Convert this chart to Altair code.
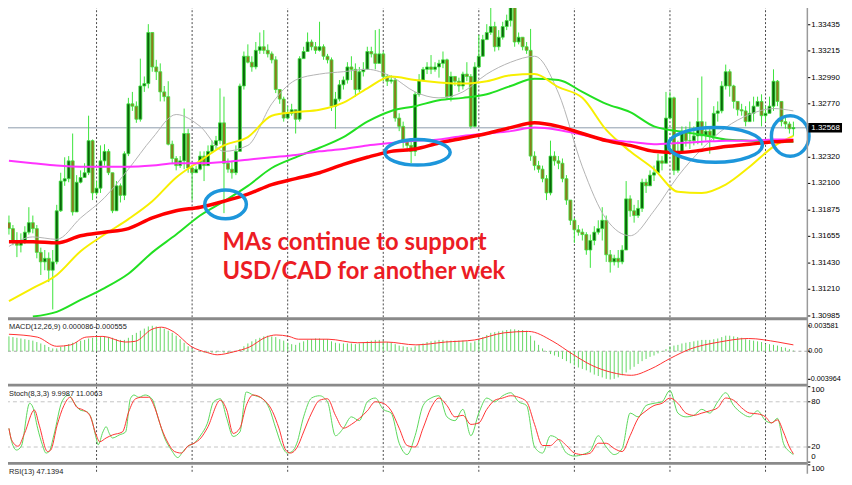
import altair as alt
import pandas as pd
import numpy as np

# ---------------- data ----------------
first_open = 1.3177
close = [
    1.3172, 1.3162, 1.3158, 1.3162, 1.3169, 1.3177, 1.3172, 1.3152, 1.3144, 1.3147,
    1.3137, 1.3144, 1.3187, 1.3212, 1.3214, 1.3229, 1.3186, 1.3211, 1.3215, 1.3219,
    1.3246, 1.3202, 1.3206, 1.3229, 1.3237, 1.3219, 1.3187, 1.3208, 1.3200, 1.3235,
    1.3277, 1.3275, 1.3264, 1.3292, 1.3294, 1.3337, 1.3308, 1.3304, 1.3287, 1.3283,
    1.3243, 1.3231, 1.3225, 1.3229, 1.3252, 1.3223, 1.3219, 1.3222, 1.3233, 1.3225,
    1.3237, 1.3242, 1.3246, 1.3261, 1.3227, 1.3222, 1.3219, 1.3237, 1.3292, 1.3317,
    1.3312, 1.3308, 1.3322, 1.3325, 1.3322, 1.3319, 1.3314, 1.3289, 1.3281, 1.3265,
    1.3269, 1.3272, 1.3264, 1.3315, 1.3321, 1.3329, 1.3325, 1.3322, 1.3325, 1.3317,
    1.3314, 1.3275, 1.3281, 1.3293, 1.3297, 1.3308, 1.3306, 1.3289, 1.3304, 1.3306,
    1.3321, 1.3319, 1.3311, 1.3319, 1.3300, 1.3296, 1.3297, 1.3265, 1.3258, 1.3246,
    1.3242, 1.3237, 1.3285, 1.3297, 1.3306, 1.3308, 1.3306, 1.3308, 1.3311, 1.3314,
    1.3283, 1.3300, 1.3296, 1.3292, 1.3302, 1.3300, 1.3258, 1.3308, 1.3317, 1.3331,
    1.3337, 1.3342, 1.3325, 1.3333, 1.3342, 1.3347, 1.3358, 1.3329, 1.3333, 1.3325,
    1.3322, 1.3233, 1.3225, 1.3222, 1.3214, 1.3202, 1.3233, 1.3229, 1.3227, 1.3214,
    1.3196, 1.3179, 1.3171, 1.3169, 1.3167, 1.3154, 1.3162, 1.3169, 1.3172, 1.3179,
    1.3150, 1.3144, 1.3147, 1.3144, 1.3154, 1.3197, 1.3187, 1.3183, 1.3189, 1.3211,
    1.3208, 1.3217, 1.3219, 1.3229, 1.3227, 1.3265, 1.3282, 1.3221, 1.3237, 1.3254,
    1.3246, 1.3246, 1.3250, 1.3262, 1.3250, 1.3254, 1.3250, 1.3269, 1.3271, 1.3292,
    1.3304, 1.3292, 1.3279, 1.3272, 1.3271, 1.3262, 1.3269, 1.3275, 1.3279, 1.3267,
    1.3269, 1.3275, 1.3296, 1.3279, 1.3262, 1.3260, 1.3256, 1.3257,
]
high = [
    1.3183, 1.3175, 1.3169, 1.3168, 1.3174, 1.3190, 1.3183, 1.3175, 1.3156, 1.3154,
    1.3152, 1.3154, 1.3192, 1.3219, 1.3232, 1.3233, 1.3252, 1.3217, 1.3221, 1.3227,
    1.3267, 1.3247, 1.3212, 1.3242, 1.3243, 1.3239, 1.3214, 1.3212, 1.3210, 1.3237,
    1.3282, 1.3287, 1.3279, 1.3315, 1.3300, 1.3344, 1.3337, 1.3314, 1.3311, 1.3292,
    1.3296, 1.3246, 1.3233, 1.3233, 1.3273, 1.3256, 1.3225, 1.3225, 1.3237, 1.3237,
    1.3242, 1.3246, 1.3250, 1.3290, 1.3283, 1.3231, 1.3229, 1.3242, 1.3294, 1.3321,
    1.3327, 1.3317, 1.3329, 1.3337, 1.3339, 1.3327, 1.3321, 1.3317, 1.3289, 1.3283,
    1.3275, 1.3277, 1.3272, 1.3317, 1.3325, 1.3337, 1.3331, 1.3329, 1.3346, 1.3327,
    1.3319, 1.3316, 1.3287, 1.3297, 1.3300, 1.3312, 1.3317, 1.3311, 1.3308, 1.3312,
    1.3325, 1.3325, 1.3339, 1.3340, 1.3321, 1.3302, 1.3301, 1.3299, 1.3269, 1.3262,
    1.3247, 1.3246, 1.3287, 1.3302, 1.3308, 1.3312, 1.3318, 1.3312, 1.3314, 1.3321,
    1.3315, 1.3304, 1.3300, 1.3299, 1.3304, 1.3312, 1.3302, 1.3312, 1.3335, 1.3335,
    1.3344, 1.3358, 1.3346, 1.3339, 1.3346, 1.3352, 1.3362, 1.3346, 1.3337, 1.3333,
    1.3329, 1.3340, 1.3237, 1.3229, 1.3225, 1.3217, 1.3246, 1.3237, 1.3233, 1.3231,
    1.3217, 1.3196, 1.3181, 1.3175, 1.3172, 1.3169, 1.3167, 1.3174, 1.3179, 1.3190,
    1.3183, 1.3154, 1.3150, 1.3154, 1.3158, 1.3212, 1.3200, 1.3192, 1.3196, 1.3214,
    1.3214, 1.3221, 1.3225, 1.3235, 1.3233, 1.3287, 1.3287, 1.3283, 1.3246, 1.3258,
    1.3258, 1.3262, 1.3258, 1.3282, 1.3300, 1.3262, 1.3258, 1.3275, 1.3279, 1.3296,
    1.3310, 1.3306, 1.3293, 1.3279, 1.3277, 1.3275, 1.3279, 1.3283, 1.3283, 1.3285,
    1.3275, 1.3283, 1.3306, 1.3297, 1.3279, 1.3267, 1.3262, 1.3262,
]
low = [
    1.3167, 1.3158, 1.3148, 1.3152, 1.3159, 1.3167, 1.3168, 1.3147, 1.3133, 1.3137,
    1.3127, 1.3104, 1.3142, 1.3186, 1.3208, 1.3211, 1.3183, 1.3204, 1.3210, 1.3215,
    1.3217, 1.3196, 1.3200, 1.3202, 1.3225, 1.3217, 1.3185, 1.3196, 1.3194, 1.3196,
    1.3233, 1.3271, 1.3261, 1.3262, 1.3287, 1.3290, 1.3304, 1.3297, 1.3279, 1.3279,
    1.3242, 1.3227, 1.3221, 1.3223, 1.3222, 1.3219, 1.3196, 1.3219, 1.3221, 1.3212,
    1.3231, 1.3236, 1.3239, 1.3243, 1.3185, 1.3219, 1.3214, 1.3217, 1.3237, 1.3289,
    1.3311, 1.3304, 1.3306, 1.3319, 1.3319, 1.3316, 1.3311, 1.3286, 1.3277, 1.3262,
    1.3264, 1.3267, 1.3252, 1.3262, 1.3315, 1.3321, 1.3322, 1.3319, 1.3321, 1.3314,
    1.3311, 1.3271, 1.3256, 1.3279, 1.3289, 1.3294, 1.3297, 1.3283, 1.3287, 1.3300,
    1.3306, 1.3316, 1.3306, 1.3317, 1.3296, 1.3292, 1.3294, 1.3262, 1.3254, 1.3240,
    1.3237, 1.3227, 1.3233, 1.3283, 1.3296, 1.3302, 1.3302, 1.3304, 1.3299, 1.3307,
    1.3281, 1.3279, 1.3292, 1.3287, 1.3289, 1.3296, 1.3256, 1.3257, 1.3307, 1.3317,
    1.3331, 1.3335, 1.3321, 1.3322, 1.3331, 1.3339, 1.3342, 1.3325, 1.3327, 1.3322,
    1.3319, 1.3229, 1.3221, 1.3219, 1.3211, 1.3196, 1.3200, 1.3225, 1.3222, 1.3211,
    1.3192, 1.3175, 1.3160, 1.3166, 1.3162, 1.3150, 1.3139, 1.3158, 1.3167, 1.3162,
    1.3144, 1.3135, 1.3141, 1.3139, 1.3142, 1.3154, 1.3182, 1.3177, 1.3181, 1.3186,
    1.3202, 1.3208, 1.3212, 1.3219, 1.3221, 1.3229, 1.3264, 1.3217, 1.3219, 1.3236,
    1.3241, 1.3239, 1.3242, 1.3243, 1.3242, 1.3246, 1.3235, 1.3246, 1.3262, 1.3269,
    1.3289, 1.3283, 1.3273, 1.3267, 1.3267, 1.3258, 1.3262, 1.3262, 1.3275, 1.3258,
    1.3262, 1.3271, 1.3271, 1.3275, 1.3258, 1.3256, 1.3252, 1.3250,
]

# moving averages sampled at these bar indices
ma_idx = [0, 6, 12, 18, 24, 30, 36, 42, 48, 54, 60, 66, 72, 78, 84, 90, 96, 102,
          108, 114, 120, 126, 132, 138, 144, 150, 156, 162, 168, 174, 180, 186, 192, 197]
ma_gray = [1.3157, 1.3165, 1.3163, 1.3181, 1.3198, 1.3222, 1.3248, 1.3268, 1.3258, 1.3237,
           1.3242, 1.3277, 1.3297, 1.3302, 1.3304, 1.3306, 1.3300, 1.3287, 1.3282, 1.3287,
           1.3302, 1.3312, 1.3317, 1.3286, 1.3224, 1.3180, 1.3166, 1.3187, 1.3216, 1.3239,
           1.3257, 1.3268, 1.3273, 1.3271]
ma_yellow = [1.3111, 1.3122, 1.3133, 1.3153, 1.3167, 1.3180, 1.3195, 1.3215, 1.3229, 1.3242,
             1.3249, 1.3267, 1.3270, 1.3272, 1.3278, 1.3290, 1.3300, 1.3297, 1.3295, 1.3294,
             1.3296, 1.3301, 1.3302, 1.3291, 1.3282, 1.3255, 1.3237, 1.3222, 1.3203, 1.3202,
             1.3209, 1.3224, 1.3241, 1.3250]
ma_green = [None, 1.3098, 1.3102, 1.3112, 1.3122, 1.3134, 1.3152, 1.3167, 1.3183, 1.3195,
            1.3208, 1.3223, 1.3232, 1.3240, 1.3249, 1.3262, 1.3271, 1.3275, 1.3280, 1.3282,
            1.3285, 1.3292, 1.3298, 1.3297, 1.3287, 1.3277, 1.3270, 1.3258, 1.3254, 1.3251,
            1.3247, 1.3246, 1.3245, 1.3245]
ma_red = [1.3161, 1.3161, 1.3160, 1.3166, 1.3169, 1.3172, 1.3181, 1.3187, 1.3190, 1.3195,
          1.3201, 1.3209, 1.3214, 1.3219, 1.3226, 1.3232, 1.3237, 1.3239, 1.3244, 1.3248,
          1.3252, 1.3257, 1.3261, 1.3258, 1.3252, 1.3246, 1.3242, 1.3237, 1.3236, 1.3238,
          1.3241, 1.3243, 1.3245, 1.3246]
ma_magenta = [1.3229, 1.3227, 1.3225, 1.3224, 1.3224, 1.3224, 1.3225, 1.3227, 1.3227, 1.3228,
              1.3230, 1.3232, 1.3234, 1.3237, 1.3239, 1.3242, 1.3244, 1.3246, 1.3247, 1.3250,
              1.3252, 1.3254, 1.3257, 1.3255, 1.3251, 1.3247, 1.3245, 1.3243, 1.3244, 1.3245,
              1.3246, 1.3246, 1.3247, 1.3247]

macd_main = [
    0.0021, 0.0020, 0.0019, 0.0018, 0.0017, 0.0016, 0.0015, 0.0013, 0.0011, 0.0009,
    0.0006, 0.0004, 0.0004, 0.0006, 0.0008, 0.0010, 0.0012, 0.0013, 0.0015, 0.0016,
    0.0018, 0.0019, 0.0020, 0.0020, 0.0021, 0.0020, 0.0019, 0.0017, 0.0016, 0.0016,
    0.0019, 0.0023, 0.0026, 0.0029, 0.0032, 0.0035, 0.0036, 0.0035, 0.0034, 0.0032,
    0.0029, 0.0026, 0.0022, 0.0017, 0.0012, 0.0007, 0.0003, 0.0000, -0.0001, -0.0002,
    -0.0002, -0.0002, -0.0002, -0.0001, -0.0002, -0.0003, -0.0002, 0.0000, 0.0003, 0.0007,
    0.0011, 0.0014, 0.0017, 0.0019, 0.0021, 0.0022, 0.0021, 0.0020, 0.0017, 0.0015,
    0.0012, 0.0010, 0.0009, 0.0012, 0.0014, 0.0016, 0.0017, 0.0018, 0.0018, 0.0017,
    0.0017, 0.0014, 0.0012, 0.0011, 0.0011, 0.0011, 0.0011, 0.0010, 0.0011, 0.0012,
    0.0014, 0.0015, 0.0016, 0.0016, 0.0015, 0.0013, 0.0012, 0.0010, 0.0008, 0.0007,
    0.0006, 0.0005, 0.0007, 0.0009, 0.0011, 0.0013, 0.0014, 0.0015, 0.0016, 0.0016,
    0.0015, 0.0015, 0.0015, 0.0015, 0.0015, 0.0014, 0.0012, 0.0014, 0.0017, 0.0020,
    0.0023, 0.0026, 0.0027, 0.0028, 0.0029, 0.0030, 0.0031, 0.0031, 0.0030, 0.0030,
    0.0029, 0.0022, 0.0015, 0.0009, 0.0004, -0.0001, -0.0004, -0.0006, -0.0008, -0.0011,
    -0.0014, -0.0017, -0.0020, -0.0023, -0.0025, -0.0027, -0.0030, -0.0033, -0.0035, -0.0037,
    -0.0039, -0.0040, -0.0039, -0.0037, -0.0034, -0.0030, -0.0026, -0.0022, -0.0018, -0.0014,
    -0.0011, -0.0008, -0.0006, -0.0003, -0.0001, 0.0003, 0.0007, 0.0008, 0.0009, 0.0011,
    0.0012, 0.0013, 0.0014, 0.0015, 0.0016, 0.0016, 0.0016, 0.0017, 0.0018, 0.0020,
    0.0022, 0.0022, 0.0021, 0.0020, 0.0019, 0.0017, 0.0016, 0.0015, 0.0014, 0.0013,
    0.0010, 0.0010, 0.0009, 0.0008, 0.0006, 0.0005, 0.0003, 0.0001,
]
macd_signal = [(0, 0.0024), (7.1, 0.0020), (12, 0.0007), (15.5, 0.0009), (19.4, 0.0020),
               (23.6, 0.0021), (29.2, 0.0013), (31.7, 0.0014), (35.9, 0.0031), (38.3, 0.0034),
               (41.5, 0.0027), (45.7, 0.0007), (49.9, -0.0002), (52.3, -0.0005), (56.3, -0.0001),
               (60.4, 0.0006), (64.6, 0.0020), (67.1, 0.0023), (70.3, 0.0021), (72.7, 0.0017),
               (80.1, 0.0017), (87.5, 0.0012), (94.8, 0.0013), (102.2, 0.0009), (109.6, 0.0013),
               (117, 0.0016), (124.3, 0.0026), (130.5, 0.0028), (136.6, 0.0014), (141.5, -0.0004),
               (146.4, -0.0020), (151.4, -0.0030), (156.3, -0.0034), (161.2, -0.0025),
               (166.1, -0.0010), (171, 0.0003), (178.4, 0.0013), (185.7, 0.0018),
               (193.1, 0.0013), (197, 0.0009)]

stoch_k = [(0, 44.7), (0.7, 27), (1.9, 16), (3.1, 21), (5.2, 78), (6.0, 73), (7.2, 45), (8.4, 23),
           (9.3, 12), (10.1, 14), (11.3, 36), (13.3, 80), (15, 89), (16.2, 80), (17.9, 69),
           (19.5, 67), (20.7, 58), (21.9, 32), (22.4, 23), (23.6, 40), (24.4, 47), (25.2, 38),
           (26, 32), (27.7, 36), (29.3, 40), (30.5, 84), (31.4, 89), (32.6, 86), (34.2, 89),
           (35.9, 84), (37.5, 58), (39.1, 32), (40.8, 16), (42.4, 6), (43.7, 14), (44.9, 21),
           (46.5, 25), (48.2, 36), (49.8, 51), (51.4, 80), (53.1, 84), (54.7, 58), (56.3, 34),
           (58, 40), (59.6, 93), (61.3, 89), (63.7, 84), (65.4, 71), (67, 45), (68.6, 21),
           (69.9, 12), (71.1, 14), (72.3, 25), (74, 60), (76, 85), (78, 88), (80, 80), (82, 35),
           (84, 45), (86, 60), (88, 55), (90, 80), (92, 85), (94, 70), (96, 65), (98, 25),
           (100, 10), (102, 35), (104, 75), (106, 85), (108, 88), (110, 60), (112, 55),
           (114, 70), (116, 35), (118, 65), (120, 85), (122, 80), (124, 88), (126, 92),
           (128, 80), (130, 75), (132, 20), (134, 12), (136, 35), (138, 30), (140, 12),
           (142, 8), (144, 10), (146, 15), (148, 35), (150, 20), (152, 10), (154, 18),
           (156, 65), (158, 60), (160, 75), (162, 78), (164, 80), (166, 95), (168, 65),
           (170, 60), (172, 62), (174, 70), (176, 65), (178, 80), (180, 92), (182, 75),
           (184, 65), (186, 60), (188, 68), (190, 55), (191.5, 52), (193, 58), (194.5, 25),
           (196, 14), (197, 10)]
stoch_d = [(0, 44.7), (0.7, 29), (2.3, 21), (3.9, 38), (6.4, 69), (7.6, 49), (9.7, 14), (10.5, 16),
           (12.1, 49), (13.8, 75), (15.4, 86), (17, 73), (18.7, 69), (20.3, 62), (21.9, 36),
           (22.8, 27), (24.4, 32), (26, 36), (28.5, 40), (30.1, 67), (31.8, 84), (33.4, 86),
           (35.1, 86), (36.7, 71), (38.3, 45), (40, 25), (41.6, 14), (43.3, 12), (44.9, 21),
           (46.5, 25), (48.2, 32), (49.8, 45), (53.1, 82), (54.7, 69), (56.3, 38), (58, 45),
           (59.6, 75), (61.3, 89), (63.7, 84), (66.2, 67), (67.8, 45), (69.5, 16), (70.7, 12),
           (71.9, 16), (72.7, 23), (74, 40), (76, 65), (78, 82), (80, 84), (82, 62), (84, 45),
           (86, 50), (88, 58), (90, 68), (92, 80), (94, 78), (96, 68), (98, 45), (100, 22),
           (102, 20), (104, 45), (106, 72), (108, 85), (110, 75), (112, 60), (114, 62),
           (116, 50), (118, 52), (120, 70), (122, 82), (124, 85), (126, 88), (128, 86),
           (130, 80), (132, 50), (134, 22), (136, 22), (138, 30), (140, 22), (142, 12),
           (144, 10), (146, 12), (148, 25), (150, 25), (152, 18), (154, 14), (156, 35),
           (158, 58), (160, 68), (162, 75), (164, 78), (166, 85), (168, 78), (170, 65),
           (172, 62), (174, 65), (176, 68), (178, 72), (180, 85), (182, 82), (184, 72),
           (186, 65), (188, 64), (190, 60), (191.5, 52), (193, 56), (194.5, 40), (196, 20),
           (197, 11)]

day_breaks = [22, 46, 70, 94, 118, 142, 166, 190]
price_ticks = [1.33435, 1.33215, 1.32990, 1.32770, 1.32320, 1.32100, 1.31875,
               1.31655, 1.31430, 1.31210, 1.30985]
last_price = 1.32568
macd_ticks = [0.003581, 0.0, -0.003964]
macd_tick_labels = ["0.003581", "0.00", "-0.003964"]
stoch_mid_ticks = [80, 20]
stoch_top_tick = 100
stoch_bottom_tick = 0
stoch_levels = [80, 20]
rsi_top_tick = 100
rsi_levels = [70]

ellipse_i = [54.4, 102.6, 177.4, 196.2]
ellipse_p = [1.31924, 1.32362, 1.32424, 1.32499]
ellipse_w = [42, 66, 95, 38]
ellipse_ratio = [0.69, 0.39, 0.37, 1.08]

note_lines = ["MAs continue to support", "USD/CAD for another wek"]
note_i = [53.6, 53.6]
note_p = [1.31541, 1.31299]

title_macd = "MACD(12,26,9) 0.000086-0.000555"
title_stoch = "Stoch(8,3,3) 9.9987 11.0063"
title_rsi = "RSI(13) 47.1394"

# ---------------- chart ----------------
FONT = "Liberation Sans, Arial, sans-serif"
FS = 8
W, H = 815, 476
LABEL_X = 819
xs = alt.Scale(domain=[-0.983, 199.26], nice=False, zero=False)
X = alt.X("i:Q", scale=xs, axis=None)

y_main = alt.Scale(domain=[1.30974, 1.33624], range=[318, 0], nice=False, zero=False)
y_macd = alt.Scale(domain=[-0.00458, 0.00424], range=[385, 322], nice=False, zero=False)
y_stoch = alt.Scale(domain=[0, 100], range=[464.2, 388.1], nice=False, zero=False)
y_rsi = alt.Scale(domain=[0, 100], range=[517, 467], nice=False, zero=False)


def Y(field, scale):
    return alt.Y(f"{field}:Q", scale=scale, axis=None)


def tick_marks(values, scale):
    return alt.Chart(pd.DataFrame({"v": values})).mark_rule(color="#000000", strokeWidth=1).encode(
        x=alt.value(W), x2=alt.value(W + 3), y=Y("v", scale))


def tick_labels(values, labels, scale, baseline="middle", dy=0, x=LABEL_X, size=FS):
    return alt.Chart(pd.DataFrame({"v": values, "t": labels})).mark_text(
        align="left", baseline=baseline, dy=dy, font=FONT, fontSize=size, color="#000000").encode(
        x=alt.value(x), y=Y("v", scale), text="t:N")


opens = [first_open] + close[:-1]
bars = pd.DataFrame({"i": np.arange(len(close)), "open": opens, "close": close,
                     "high": high, "low": low})
bars["high"] = bars[["high", "open", "close"]].max(axis=1)
bars["low"] = bars[["low", "open", "close"]].min(axis=1)
bars["dir"] = np.where(bars["close"] >= bars["open"], "up", "down")

WICK = "#3be43b"

price_line = alt.Chart(pd.DataFrame({"p": [last_price]})).mark_rule(
    color="#8d9cab", strokeWidth=1).encode(y=Y("p", y_main))

wicks = alt.Chart(bars).mark_rule(color=WICK, strokeWidth=1).encode(
    x=X, y=Y("low", y_main), y2="high:Q")

bodies = alt.Chart(bars).mark_bar(size=3, stroke=WICK, strokeWidth=0.8, orient="vertical").encode(
    x=X, y=Y("open", y_main), y2="close:Q",
    fill=alt.Fill("dir:N", scale=alt.Scale(domain=["up", "down"], range=["#0b650b", "#8c7a1e"]),
                  legend=None))


def ma_layer(vals, color, width):
    df = pd.DataFrame({"i": ma_idx, "p": vals}).dropna()
    return alt.Chart(df).mark_line(color=color, strokeWidth=width, interpolate="monotone").encode(
        x=X, y=Y("p", y_main))


ma_layers = [
    ma_layer(ma_gray, "#b3b3b3", 1),
    ma_layer(ma_green, "#22e022", 2),
    ma_layer(ma_yellow, "#f7ef00", 2),
    ma_layer(ma_magenta, "#ff33ff", 2),
    ma_layer(ma_red, "#ff0000", 3.5),
]

ell = pd.DataFrame({"i": ellipse_i, "p": ellipse_p})
ell["size"] = [w * w for w in ellipse_w]
ell["path"] = ["M-1,0A1,{r},0,1,1,1,0A1,{r},0,1,1,-1,0Z".format(r=r) for r in ellipse_ratio]
ellipses = alt.Chart(ell).mark_point(filled=False, strokeWidth=3.5, color="#1d96db", opacity=1).encode(
    x=X, y=Y("p", y_main),
    shape=alt.Shape("path:N", scale=None), size=alt.Size("size:Q", scale=None))

notes = alt.Chart(pd.DataFrame({"i": note_i, "p": note_p, "t": note_lines})).mark_text(
    align="left", baseline="alphabetic", font="Lato", fontWeight="bold", fontSize=24,
    color="#ec1c24").encode(x=X, y=Y("p", y_main), text="t:N")

main_ticks = tick_marks(price_ticks, y_main)
main_labels = tick_labels(price_ticks, [f"{v:.5f}" for v in price_ticks], y_main)

box_df = pd.DataFrame({"p": [last_price], "top": [last_price + 0.00040],
                       "bot": [last_price - 0.00040], "t": [f"{last_price:.5f}"]})
price_box = alt.Chart(box_df).mark_rect(color="#000000").encode(
    x=alt.value(W + 1), x2=alt.value(W + 35), y=Y("top", y_main), y2="bot:Q")
price_txt = alt.Chart(box_df).mark_text(align="left", baseline="middle", font=FONT, fontSize=FS,
                                        color="#ffffff").encode(
    x=alt.value(LABEL_X), y=Y("p", y_main), text="t:N")

main = alt.layer(price_line, wicks, bodies, *ma_layers, ellipses, notes,
                 main_ticks, main_labels, price_box, price_txt)

# MACD
macd_df = pd.DataFrame({"i": np.arange(len(macd_main)), "h": macd_main, "zero": 0.0})
sig_df = pd.DataFrame(macd_signal, columns=["i", "v"])
macd_zero = alt.Chart(pd.DataFrame({"z": [0.0]})).mark_rule(
    color="#a8a8a8", strokeDash=[3, 3], strokeWidth=1).encode(y=Y("z", y_macd))
macd_hist = alt.Chart(macd_df).mark_rule(color="#63d863", strokeWidth=1).encode(
    x=X, y=Y("h", y_macd), y2="zero:Q")
macd_sig = alt.Chart(sig_df).mark_line(color="#ff3030", strokeWidth=1, interpolate="monotone").encode(
    x=X, y=Y("v", y_macd))
macd = alt.layer(macd_zero, macd_hist, macd_sig,
                 tick_marks(macd_ticks, y_macd),
                 tick_labels(macd_ticks, macd_tick_labels, y_macd, x=816, size=7.3))

# Stochastic
st_levels = alt.Chart(pd.DataFrame({"v": stoch_levels})).mark_rule(
    color="#c4c4c4", strokeDash=[4, 3], strokeWidth=1).encode(y=Y("v", y_stoch))
k_df = pd.DataFrame(stoch_k, columns=["i", "v"])
d_df = pd.DataFrame(stoch_d, columns=["i", "v"])
st_k = alt.Chart(k_df).mark_line(color="#5bd85b", strokeWidth=1, interpolate="monotone").encode(
    x=X, y=Y("v", y_stoch))
st_d = alt.Chart(d_df).mark_line(color="#ff3333", strokeWidth=1, interpolate="monotone").encode(
    x=X, y=Y("v", y_stoch))
stoch = alt.layer(
    st_levels, st_k, st_d,
    tick_marks(stoch_mid_ticks + [stoch_top_tick, stoch_bottom_tick], y_stoch),
    tick_labels(stoch_mid_ticks, [str(v) for v in stoch_mid_ticks], y_stoch),
    tick_labels([stoch_top_tick], [str(stoch_top_tick)], y_stoch, baseline="top", dy=-1),
    tick_labels([stoch_bottom_tick], [str(stoch_bottom_tick)], y_stoch, baseline="bottom", dy=-1),
)

# RSI (only its top is visible)
rsi = alt.layer(
    alt.Chart(pd.DataFrame({"v": rsi_levels})).mark_rule(
        color="#c4c4c4", strokeDash=[4, 3], strokeWidth=1).encode(y=Y("v", y_rsi)),
    tick_marks([rsi_top_tick], y_rsi),
    tick_labels([rsi_top_tick], [str(rsi_top_tick)], y_rsi, baseline="top", dy=0),
)

# grid and frames
grid = alt.Chart(pd.DataFrame({"i": day_breaks})).mark_rule(
    color="#4a4a4a", strokeDash=[2, 2], strokeWidth=1).encode(
    x=X, y=alt.value(0), y2=alt.value(H))

one = pd.DataFrame({"a": [0]})
sep_layers = []
for yy in [319.5, 386.5, 465.5]:
    sep_layers.append(alt.Chart(one).mark_rule(color="#8a8a8a", strokeWidth=3).encode(
        x=alt.value(0), x2=alt.value(W), y=alt.value(yy)))
right_border = alt.Chart(one).mark_rule(color="#9a9a9a", strokeWidth=1.5).encode(
    x=alt.value(W), y=alt.value(0), y2=alt.value(H))


def title_text(t, yy):
    return alt.Chart(pd.DataFrame({"t": [t]})).mark_text(
        align="left", baseline="middle", font=FONT, fontSize=7.5, color="#222222").encode(
        x=alt.value(9), y=alt.value(yy), text="t:N")


deco = alt.layer(*sep_layers, right_border,
                 title_text(title_macd, 328), title_text(title_stoch, 395),
                 title_text(title_rsi, 474))

chart = alt.layer(grid, main, macd, stoch, rsi, deco).resolve_scale(
    y="independent").properties(
    width=W, height=H,
    autosize=alt.AutoSizeParams(type="none"),
    padding={"left": -8, "top": -8, "right": 37, "bottom": 0},
    background="white",
).configure_view(stroke=None)

chart.save("out.html", embed_options={"renderer": "svg", "actions": False})
